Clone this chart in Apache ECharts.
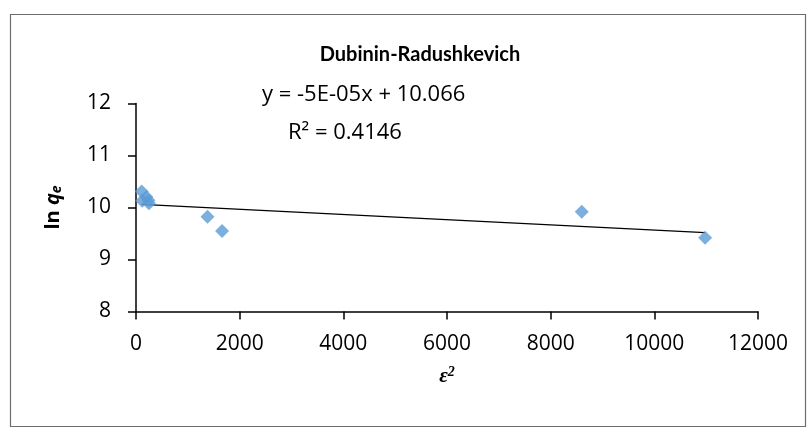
<!DOCTYPE html>
<html>
<head>
<meta charset="utf-8">
<script src="https://cdn.jsdelivr.net/npm/echarts@6/dist/echarts.min.js"></script>
<style>
html,body{margin:0;padding:0;background:#fff;}
#chart{width:809px;height:428px;}
</style>
</head>
<body>
<div id="chart"></div>
<script>
// Data
const xValues = [110, 120, 200, 240, 250, 1380, 1660, 8600, 10980];
const yValues = [10.31, 10.13, 10.20, 10.14, 10.08, 9.82, 9.55, 9.92, 9.42];
const trendSlope = -5e-5;
const trendIntercept = 10.066;
const rSquared = 0.4146;
const titleText = 'Dubinin-Radushkevich';

const points = xValues.map((x, i) => [x, yValues[i]]);
const xMin = Math.min(...xValues), xMax = Math.max(...xValues);
const trend = [[xMin, trendIntercept + trendSlope * xMin], [xMax, trendIntercept + trendSlope * xMax]];

const font = '"Open Sans", "Liberation Sans", sans-serif';
const chart = echarts.init(document.getElementById('chart'));
chart.setOption({
  animation: false,
  backgroundColor: '#fff',
  title: {
    text: titleText, left: 415, top: 40, textAlign: 'center',
    textStyle: {fontFamily: 'Lato, "Open Sans", sans-serif', fontWeight: 'bold', fontSize: 20, color: '#000'}
  },
  grid: {left: 136, right: 51, top: 103.5, bottom: 116.5},
  xAxis: {
    type: 'value', min: 0, max: 12000, interval: 2000,
    name: '{e|ε}{s|2}', nameLocation: 'middle', nameGap: 54,
    nameTextStyle: {
      rich: {
        e: {fontFamily: '"Liberation Serif", serif', fontStyle: 'italic', fontWeight: 'bold', fontSize: 21, color: '#000'},
        s: {fontFamily: '"Liberation Serif", serif', fontStyle: 'italic', fontWeight: 'bold', fontSize: 14, color: '#000', verticalAlign: 'top', padding: [0,0,8,0]}
      }
    },
    axisLine: {lineStyle: {color: '#000', width: 1.5}},
    axisTick: {show: true, inside: false, length: 8, lineStyle: {color: '#000', width: 1.5}},
    axisLabel: {fontFamily: font, fontSize: 21, color: '#000', margin: 22, formatter: v => String(v)},
    splitLine: {show: false}
  },
  yAxis: {
    type: 'value', min: 8, max: 12, interval: 1,
    name: '{b|ln }{q|q}{e|e}', nameLocation: 'middle', nameGap: 72, nameRotate: 90,
    nameTextStyle: {
      rich: {
        b: {fontFamily: font, fontWeight: 'bold', fontSize: 20, color: '#000'},
        q: {fontFamily: font, fontWeight: 'bold', fontStyle: 'italic', fontSize: 20, color: '#000'},
        e: {fontFamily: font, fontWeight: 'bold', fontStyle: 'italic', fontSize: 14, color: '#000', padding: [8,0,0,0]}
      }
    },
    axisLine: {show: true, lineStyle: {color: '#000', width: 1.5}},
    axisTick: {show: true, inside: false, length: 8, lineStyle: {color: '#000', width: 1.5}},
    axisLabel: {fontFamily: font, fontSize: 21, color: '#000', margin: 25},
    splitLine: {show: false}
  },
  graphic: [
    {type: 'rect', shape: {x: 10.5, y: 14.5, width: 795, height: 412}, style: {fill: 'none', stroke: '#6d6d6d', lineWidth: 1.2}, z: -1},
    {type: 'text', left: 262, top: 84, style: {text: 'y = -5E-05x + 10.066', fontFamily: font, fontSize: 22, fill: '#000'}},
    {type: 'text', left: 288, top: 122, style: {text: 'R² = ' + rSquared, fontFamily: font, fontSize: 22, fill: '#000'}}
  ],
  series: [
    {
      type: 'line', data: trend, symbol: 'none', silent: true,
      lineStyle: {color: '#000', width: 1.4}, z: 1
    },
    {
      type: 'scatter', data: points, symbol: 'diamond', symbolSize: 14,
      itemStyle: {color: '#5b9bd5'}, z: 2
    }
  ]
});
</script>
</body>
</html>
